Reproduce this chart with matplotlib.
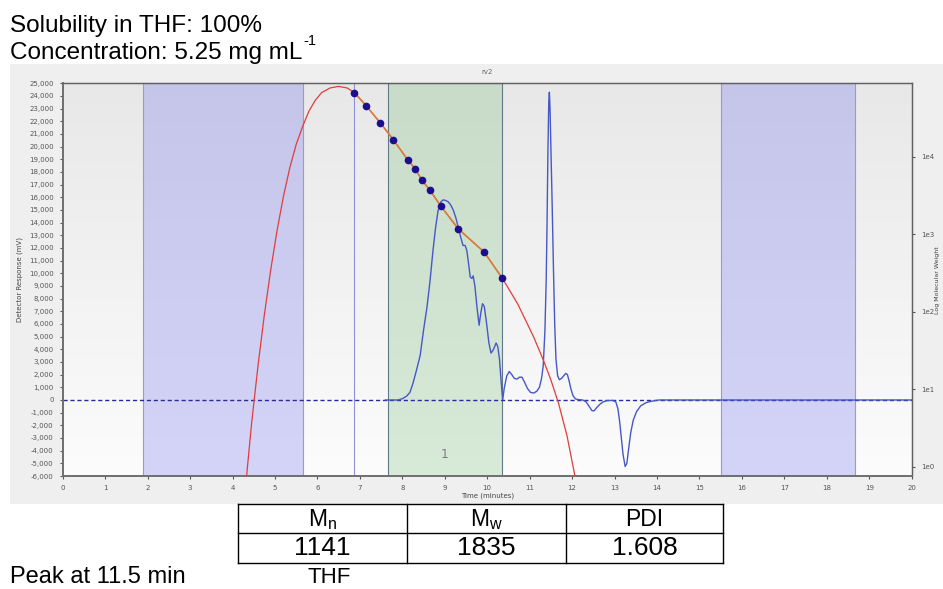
import numpy as np
import matplotlib.pyplot as plt
from matplotlib.colors import LinearSegmentedColormap
from matplotlib.patches import Rectangle
from matplotlib.ticker import FuncFormatter, FixedLocator, NullLocator

plt.rcParams['mathtext.fontset'] = 'custom'
plt.rcParams['mathtext.rm'] = 'Liberation Sans'

# 检测器信号 (时间 min, mV)
trace_t = [7.6, 7.90, 8.00, 8.10, 8.18, 8.25, 8.33, 8.42, 8.50, 8.58, 8.65, 8.72, 8.78, 8.84,
           8.90, 8.96, 9.02, 9.08, 9.14, 9.20, 9.26, 9.32, 9.38, 9.43, 9.48, 9.52, 9.56, 9.60,
           9.64, 9.67, 9.71, 9.76, 9.81, 9.85, 9.89, 9.93, 9.98, 10.04, 10.09, 10.15, 10.21,
           10.25, 10.29, 10.33, 10.365, 10.40, 10.46, 10.52, 10.58, 10.64, 10.70, 10.76, 10.82,
           10.88, 10.95, 11.02, 11.10, 11.17, 11.23, 11.28, 11.32, 11.36, 11.39, 11.41, 11.43,
           11.45, 11.465, 11.48, 11.50, 11.53, 11.56, 11.59, 11.62, 11.66, 11.70, 11.75, 11.80,
           11.85, 11.89, 11.93, 11.97, 12.02, 12.08, 12.15, 12.25, 12.33, 12.40, 12.47, 12.52,
           12.58, 12.65, 12.73, 12.82, 12.95, 13.03, 13.08, 13.12, 13.16, 13.20, 13.25, 13.29,
           13.33, 13.38, 13.44, 13.52, 13.62, 13.75, 13.90, 14.05, 20]
trace_mv = [0, 0, 100, 300, 600, 1300, 2300, 3500, 5500, 7300, 9300, 11700, 13500, 14900,
            15600, 15800, 15750, 15650, 15400, 15000, 14400, 13600, 12800, 12200, 12200, 11800,
            10800, 9700, 9600, 9800, 9000, 7300, 5900, 6900, 7600, 7400, 6200, 4500, 3700, 4000,
            4500, 4200, 3200, 1400, 0, 900, 1900, 2250, 2000, 1700, 1650, 1800, 1800,
            1400, 900, 600, 550, 700, 1000, 1700, 2700, 5500, 9500, 14000, 19500,
            23500, 24300, 23000, 20000, 15500, 10500, 6000, 3200, 1900, 1600, 1700, 1900,
            2100, 2000, 1500, 900, 350, 80, 30, 0, -150, -500, -850, -850,
            -600, -350, -150, -50, -30, -150, -700, -1700, -3000, -4300, -5250, -5000,
            -3900, -2600, -1600, -900, -450, -200, -80, 0, 0]

# 校准曲线 (log MW)
calib_t = [4.33, 4.45, 4.60, 4.75, 4.90, 5.05, 5.20, 5.35, 5.50, 5.65, 5.80, 5.95, 6.10, 6.30,
           6.50, 6.70, 6.87, 7.15, 7.48, 7.79, 8.13, 8.30, 8.46, 8.65, 8.90, 9.32, 9.93, 10.36,
           10.72, 11.09, 11.32, 11.50, 11.68, 11.88, 12.07]
calib_logmw = [-0.13, 0.56, 1.30, 1.96, 2.54, 3.05, 3.49, 3.86, 4.16, 4.39, 4.59, 4.73, 4.83,
               4.89, 4.91, 4.89, 4.83, 4.66, 4.44, 4.22, 3.96, 3.85, 3.70, 3.57, 3.37, 3.07,
               2.77, 2.43, 2.10, 1.68, 1.38, 1.12, 0.82, 0.40, -0.13]

# 标准点
std_t = [6.87, 7.15, 7.48, 7.79, 8.13, 8.30, 8.46, 8.65, 8.90, 9.32, 9.93, 10.36]
std_logmw = [4.83, 4.66, 4.44, 4.22, 3.96, 3.85, 3.70, 3.57, 3.37, 3.07, 2.77, 2.43]

blue_regions = [(1.89, 5.66), (15.5, 18.66)]
green_region = (7.67, 10.36)
marker_t = 6.87

table_head = ['M$_\\mathregular{n}$', 'M$_\\mathregular{w}$', 'PDI']
table_vals = ['1141', '1835', '1.608']

fig = plt.figure(figsize=(9.43, 5.89), dpi=100)

# 背景
bg = fig.add_axes([0, 0, 1, 1], zorder=-1)
bg.set_xlim(0, 943)
bg.set_ylim(589, 0)
bg.axis('off')
bg.add_patch(Rectangle((10, 64), 933, 440, color='#efefef', lw=0))

ax = fig.add_axes([62.7 / 943, 1 - 476 / 589, 849 / 943, 392.7 / 589])
cmap = LinearSegmentedColormap.from_list('g', ['#e8e8e8', '#fcfcfc'])
ax.imshow(np.linspace(0, 1, 256).reshape(-1, 1), cmap=cmap, aspect='auto',
          extent=[0, 20, -6000, 25000], origin='upper', zorder=0)

for a, b in blue_regions:
    ax.axvspan(a, b, facecolor=(100 / 255, 100 / 255, 240 / 255, 0.26),
               edgecolor='#9a9ad0', lw=0.8, zorder=1)
ax.axvspan(*green_region, facecolor=(118 / 255, 187 / 255, 118 / 255, 0.27),
           edgecolor='#607888', lw=0.8, zorder=1)
ax.axvline(marker_t, color='#9090d8', lw=0.8, zorder=2)
ax.text(9.0, -4300, '1', fontsize=9, color='#808080', ha='center', va='center')

ax.axhline(0, color='#2a2a9a', lw=1, ls=(0, (3, 2)), zorder=3)
ax.plot(trace_t, trace_mv, color='#4657c6', lw=1, zorder=4)

ax.set_xlim(0, 20)
ax.set_ylim(-6000, 25000)
ax.set_xticks(range(0, 21))
ax.set_yticks(range(-6000, 25001, 1000))
ax.yaxis.set_major_formatter(FuncFormatter(lambda v, p: f'{int(v):,}'))
ax.tick_params(labelsize=5, colors='#555555', length=2.5, pad=4)
ax.set_xlabel('Time (minutes)', fontsize=5, color='#444444', labelpad=1)
ax.set_ylabel('Detector Response (mV)', fontsize=5, color='#444444', labelpad=4)
ax.text(0.5, 1.028, 'rv2', transform=ax.transAxes, ha='center', va='center',
        fontsize=5, color='#666666')

ax2 = ax.twinx()
ax2.set_yscale('log')
ax2.plot(calib_t, 10 ** np.array(calib_logmw), color='#e23c3c', lw=0.9, zorder=5)
ax2.plot(std_t, 10 ** np.array(std_logmw), color='#d9803a', lw=1.1, zorder=5)
ax2.plot(std_t, 10 ** np.array(std_logmw), 'o', color='#1c0f8f', ms=4.5, zorder=6)
ax2.set_ylim(10 ** -0.12, 10 ** 4.95)
ax2.yaxis.set_major_locator(FixedLocator([1, 10, 100, 1000, 10000]))
ax2.yaxis.set_minor_locator(NullLocator())
ax2.yaxis.set_major_formatter(FuncFormatter(lambda v, p: f'1e{int(round(np.log10(v)))}'))
ax2.tick_params(labelsize=5, colors='#555555', length=2.5, pad=4)
ax2.set_ylabel('Log Molecular Weight', fontsize=4.5, color='#444444', labelpad=0.5)

for a in (ax, ax2):
    for s in ('left', 'bottom'):
        a.spines[s].set_color('#707070')
        a.spines[s].set_linewidth(1.3)
    for s in ('top', 'right'):
        a.spines[s].set_color('#606060')
        a.spines[s].set_linewidth(0.9)

# 文字
big = dict(family=['Liberation Sans', 'DejaVu Sans'], color='black')
bg.text(10, 32, 'Solubility in THF: 100%', fontsize=17.5, va='baseline', **big)
conc = bg.text(10, 59, 'Concentration: 5.25 mg mL', fontsize=17.5, va='baseline', **big)
fig.canvas.draw()
ext = conc.get_window_extent()
bg.text(ext.x1 + 1, 45, '-1', fontsize=10.5, va='baseline', **big)
bg.text(10, 583, 'Peak at 11.5 min', fontsize=17, va='baseline', **big)
bg.text(308, 583, 'THF', fontsize=16, va='baseline', **big)

xs = [237.7, 407.3, 566, 723.3]
ys = [504, 533.3, 562.7]
for x in xs:
    bg.plot([x, x], [ys[0], ys[-1]], color='black', lw=1)
for y in ys:
    bg.plot([xs[0], xs[-1]], [y, y], color='black', lw=1)
for i in range(3):
    cx = (xs[i] + xs[i + 1]) / 2
    bg.text(cx, (ys[0] + ys[1]) / 2 + 1, table_head[i], fontsize=16.5, ha='center',
            va='center', **big)
    bg.text(cx, (ys[1] + ys[2]) / 2, table_vals[i], fontsize=19, ha='center',
            va='center', **big)

plt.savefig('out.png', dpi=100)
